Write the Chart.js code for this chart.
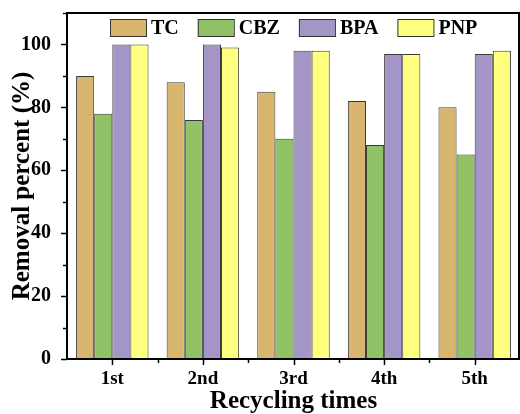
<!DOCTYPE html>
<html>
<head>
<meta charset="utf-8">
<script src="https://cdn.jsdelivr.net/npm/chart.js@4"></script>
<style>
  html, body { margin: 0; padding: 0; background: #fff; }
  #wrap { width: 520px; height: 414px; }
</style>
</head>
<body>
<div id="wrap"><canvas id="myChart" width="520" height="414"></canvas></div>
<script>
// recycling runs and removal percent for each pollutant
const cycles = ['1st', '2nd', '3rd', '4th', '5th'];
const tcValues = [90, 88, 85, 82, 80];
const cbzValues = [78, 76, 70, 68, 65];
const bpaValues = [100, 100, 98, 97, 97];
const pnpValues = [100, 99, 98, 97, 98];
const yTicks = [0, 20, 40, 60, 80, 100];

const FONT = "'Liberation Serif', 'Times New Roman', serif";

// light dotted fill, like the printed bars
function dotted(base, dot) {
    const c = document.createElement('canvas');
    c.width = 8;
    c.height = 8;
    const g = c.getContext('2d');
    g.fillStyle = base;
    g.fillRect(0, 0, 8, 8);
    g.fillStyle = dot;
    g.fillRect(1, 2, 1, 1);
    g.fillRect(5, 6, 1, 1);
    return g.createPattern(c, 'repeat');
}

// frame + hand drawn tick marks (major / minor) + legend inside the plot
const framePlugin = {
    id: 'frame',
    afterDraw(chart) {
        const ctx = chart.ctx;
        const area = chart.chartArea;
        const x = chart.scales.x;
        const y = chart.scales.y;
        ctx.save();
        ctx.strokeStyle = '#000';

        // box round the plot
        ctx.lineWidth = 2;
        ctx.strokeRect(area.left, area.top, area.right - area.left - 1, area.bottom - area.top);

        // y ticks: long every 20, short every 10
        ctx.lineWidth = 1.5;
        for (let v = 0; v <= 110; v += 10) {
            const py = Math.round(y.getPixelForValue(v)) + 0.5;
            const len = yTicks.includes(v) ? 6 : 4;
            ctx.beginPath();
            ctx.moveTo(area.left, py);
            ctx.lineTo(area.left - len, py);
            ctx.stroke();
        }

        // x ticks: long at each cycle, short between them
        for (let i = 0; i < cycles.length; i++) {
            const px = Math.round(x.getPixelForValue(i)) + 0.5;
            ctx.beginPath();
            ctx.moveTo(px, area.bottom);
            ctx.lineTo(px, area.bottom + 6);
            ctx.stroke();
            if (i > 0) {
                const mx = Math.round((x.getPixelForValue(i - 1) + x.getPixelForValue(i)) / 2) + 0.5;
                ctx.beginPath();
                ctx.moveTo(mx, area.bottom);
                ctx.lineTo(mx, area.bottom + 4);
                ctx.stroke();
            }
        }

        // legend row at the top of the plot
        const boxW = 36, boxH = 17, gapText = 5, gapItem = 19;
        ctx.font = 'bold 20px ' + FONT;
        const sets = chart.data.datasets;
        const widths = sets.map(ds => boxW + gapText + ctx.measureText(ds.label).width);
        const total = widths.reduce((a, b) => a + b, 0) + gapItem * (sets.length - 1);
        let lx = Math.round((area.left + area.right) / 2 - total / 2);
        const ly = Math.round(area.top + 6);
        ctx.textBaseline = 'middle';
        ctx.textAlign = 'left';
        sets.forEach((ds, i) => {
            ctx.fillStyle = ds.backgroundColor;
            ctx.fillRect(lx, ly, boxW, boxH);
            ctx.lineWidth = 1;
            ctx.strokeStyle = '#333';
            ctx.strokeRect(lx + 0.5, ly + 0.5, boxW, boxH);
            ctx.fillStyle = '#000';
            ctx.fillText(ds.label, lx + boxW + gapText, ly + boxH / 2 + 1);
            lx += widths[i] + gapItem;
        });
        ctx.restore();
    }
};

function makeSet(label, data, color, dot) {
    return {
        label: label,
        data: data,
        backgroundColor: dotted(color, dot),
        borderColor: '#3a3a3a',
        borderWidth: 1,
        categoryPercentage: 0.8,
        barPercentage: 1.0
    };
}

const ctx = document.getElementById('myChart').getContext('2d');
const chart = new Chart(ctx, {
    type: 'bar',
    data: {
        labels: cycles,
        datasets: [
            makeSet('TC', tcValues, '#d9b66e', '#c9a45e'),
            makeSet('CBZ', cbzValues, '#92c268', '#82b05a'),
            makeSet('BPA', bpaValues, '#a596c8', '#9585b8'),
            makeSet('PNP', pnpValues, '#ffff80', '#eeee70')
        ]
    },
    options: {
        responsive: false,
        animation: false,
        layout: { padding: { top: 13, right: 0, left: 0, bottom: 0 } },
        plugins: {
            legend: { display: false },
            tooltip: { enabled: false }
        },
        scales: {
            x: {
                grid: { display: false },
                border: { display: false },
                ticks: {
                    color: '#000',
                    padding: 1,
                    font: { family: FONT, size: 19, weight: 'bold' }
                },
                title: {
                    display: true,
                    text: 'Recycling times',
                    color: '#000',
                    padding: { top: 0, bottom: 0 },
                    font: { family: FONT, size: 25, weight: 'bold', lineHeight: 1.0 }
                },
                afterFit(scale) {
                    scale.height = 55;
                    scale.paddingLeft = 0;
                    scale.paddingRight = 0;
                }
            },
            y: {
                min: 0,
                max: 110,
                grid: { display: false },
                border: { display: false },
                afterBuildTicks(scale) {
                    scale.ticks = yTicks.map(v => ({ value: v }));
                },
                ticks: {
                    color: '#000',
                    padding: 8,
                    font: { family: FONT, size: 20, weight: 'bold' }
                },
                title: {
                    display: true,
                    text: 'Removal percent (%)',
                    color: '#000',
                    padding: { top: 10, bottom: 0 },
                    font: { family: FONT, size: 25, weight: 'bold', lineHeight: 1.0 }
                },
                afterFit(scale) {
                    scale.width = 67;
                    scale.paddingTop = 0;
                    scale.paddingBottom = 0;
                }
            }
        }
    },
    plugins: [framePlugin]
});
</script>
</body>
</html>
